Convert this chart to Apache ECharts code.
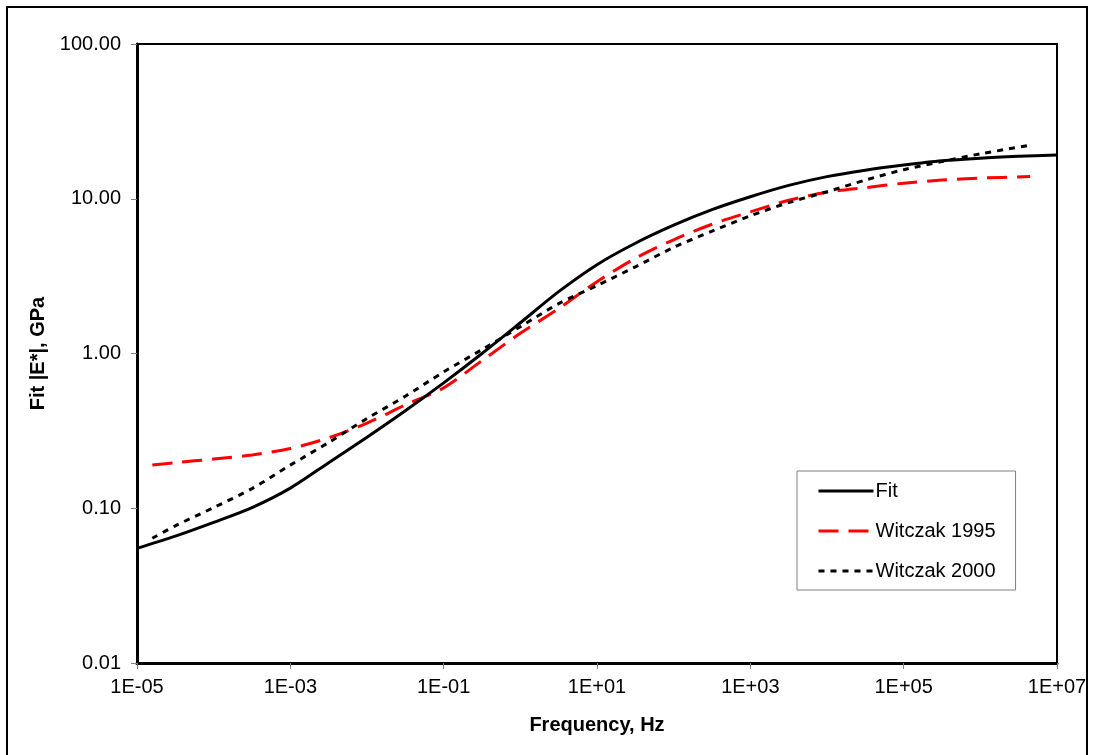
<!DOCTYPE html>
<html>
<head>
<meta charset="utf-8">
<title>Fit |E*| vs frequency</title>
<script src="https://cdn.jsdelivr.net/npm/echarts@6/dist/echarts.min.js"></script>
<style>
    html, body { margin: 0; padding: 0; background: #fff; }
    #chart { width: 1094px; height: 755px; }
</style>
</head>
<body>
<div id="chart"></div>
<script>
    // log10 of frequency (Hz) for each read point
    var fitExp = [-5, -4.5, -4, -3.5, -3, -2.5, -2, -1.5, -1, -0.5, 0, 0.5, 1, 1.5, 2, 2.5, 3, 3.5, 4, 4.5, 5, 5.5, 6, 6.5, 7];
    var fitValues = [0.055, 0.066, 0.081, 0.101, 0.135, 0.197, 0.288, 0.427, 0.646, 1.0, 1.58, 2.51, 3.75, 5.16, 6.75, 8.5, 10.3, 12.2, 13.9, 15.3, 16.5, 17.6, 18.3, 18.8, 19.2];

    var witczakExp = [-4.8, -4.5, -4, -3.5, -3, -2.5, -2, -1.5, -1, -0.5, 0, 0.5, 1, 1.5, 2, 2.5, 3, 3.5, 4, 4.5, 5, 5.5, 6, 6.65];
    var witczak1995 = [0.19, 0.197, 0.208, 0.221, 0.243, 0.285, 0.355, 0.465, 0.6, 0.9, 1.35, 1.95, 2.91, 4.12, 5.43, 6.84, 8.22, 9.77, 11.0, 11.8, 12.6, 13.2, 13.6, 13.9];
    var witczak2000 = [0.064, 0.077, 0.101, 0.134, 0.19, 0.266, 0.38, 0.53, 0.76, 1.06, 1.49, 2.1, 2.75, 3.63, 4.85, 6.17, 7.76, 9.44, 11.1, 13.2, 15.4, 17.4, 19.5, 22.2];

    var xTickValues = [1e-5, 1e-3, 1e-1, 1e1, 1e3, 1e5, 1e7];

    function pairs(exps, vals) {
        return exps.map(function(e, i) {
            return [Math.pow(10, e), vals[i]];
        });
    }

    function sciLabel(v) {
        var e = Math.round(Math.log10(v));
        var a = Math.abs(e);
        return '1E' + (e < 0 ? '-' : '+') + (a < 10 ? '0' + a : a);
    }

    var font = 'Liberation Sans, Arial, sans-serif';

    var option = {
        animation: false,
        backgroundColor: '#fff',
        textStyle: { fontFamily: font },
        grid: {
            left: 137,
            top: 44,
            right: 37,
            bottom: 92,
            show: true,
            borderColor: '#000',
            borderWidth: 2
        },
        graphic: [{
            type: 'rect',
            shape: { x: 7, y: 7, width: 1080, height: 780 },
            style: { fill: 'none', stroke: '#000', lineWidth: 2 },
            silent: true
        }],
        legend: {
            orient: 'vertical',
            left: 797,
            top: 471,
            padding: [10, 20, 9, 20],
            itemGap: 20,
            itemWidth: 55,
            itemHeight: 14,
            borderColor: '#808080',
            borderWidth: 1,
            backgroundColor: '#fff',
            itemStyle: { opacity: 0 },
            lineStyle: { width: 3 },
            textStyle: { fontFamily: font, fontSize: 20, color: '#000', padding: [0, 0, 0, -3] },
            data: ['Fit', 'Witczak 1995', 'Witczak 2000']
        },
        xAxis: {
            type: 'log',
            logBase: 10,
            min: 1e-5,
            max: 1e7,
            name: 'Frequency, Hz',
            nameLocation: 'middle',
            nameGap: 52,
            nameTextStyle: { fontFamily: font, fontSize: 20, fontWeight: 'bold', color: '#000' },
            axisLine: { lineStyle: { color: '#000', width: 3 } },
            axisTick: { length: 6, lineStyle: { color: '#808080' }, customValues: xTickValues },
            axisLabel: {
                customValues: xTickValues,
                margin: 14,
                fontSize: 20,
                color: '#000',
                fontFamily: font,
                formatter: sciLabel
            },
            splitLine: { show: false },
            minorTick: { show: false }
        },
        yAxis: {
            type: 'log',
            logBase: 10,
            min: 0.01,
            max: 100,
            name: 'Fit |E*|, GPa',
            nameLocation: 'middle',
            nameGap: 88,
            nameTextStyle: { fontFamily: font, fontSize: 20, fontWeight: 'bold', color: '#000' },
            axisLine: { lineStyle: { color: '#000', width: 3 } },
            axisTick: { length: 6, lineStyle: { color: '#808080' } },
            axisLabel: {
                margin: 16,
                fontSize: 20,
                color: '#000',
                fontFamily: font,
                formatter: function(v) { return v.toFixed(2); }
            },
            splitLine: { show: false }
        },
        series: [{
            name: 'Fit',
            type: 'line',
            data: pairs(fitExp, fitValues),
            smooth: 0.3,
            symbol: 'none',
            lineStyle: { color: '#000', width: 3, type: 'solid' },
            itemStyle: { color: '#000' },
            z: 3
        }, {
            name: 'Witczak 1995',
            type: 'line',
            data: pairs(witczakExp, witczak1995),
            smooth: 0.3,
            symbol: 'none',
            lineStyle: { color: '#ff0000', width: 3, type: [20, 10] },
            itemStyle: { color: '#ff0000' },
            z: 2
        }, {
            name: 'Witczak 2000',
            type: 'line',
            data: pairs(witczakExp, witczak2000),
            smooth: 0.3,
            symbol: 'none',
            lineStyle: { color: '#000', width: 3, type: [6, 6] },
            itemStyle: { color: '#000' },
            z: 2
        }]
    };

    var chart = echarts.init(document.getElementById('chart'));
    chart.setOption(option);
</script>
</body>
</html>
